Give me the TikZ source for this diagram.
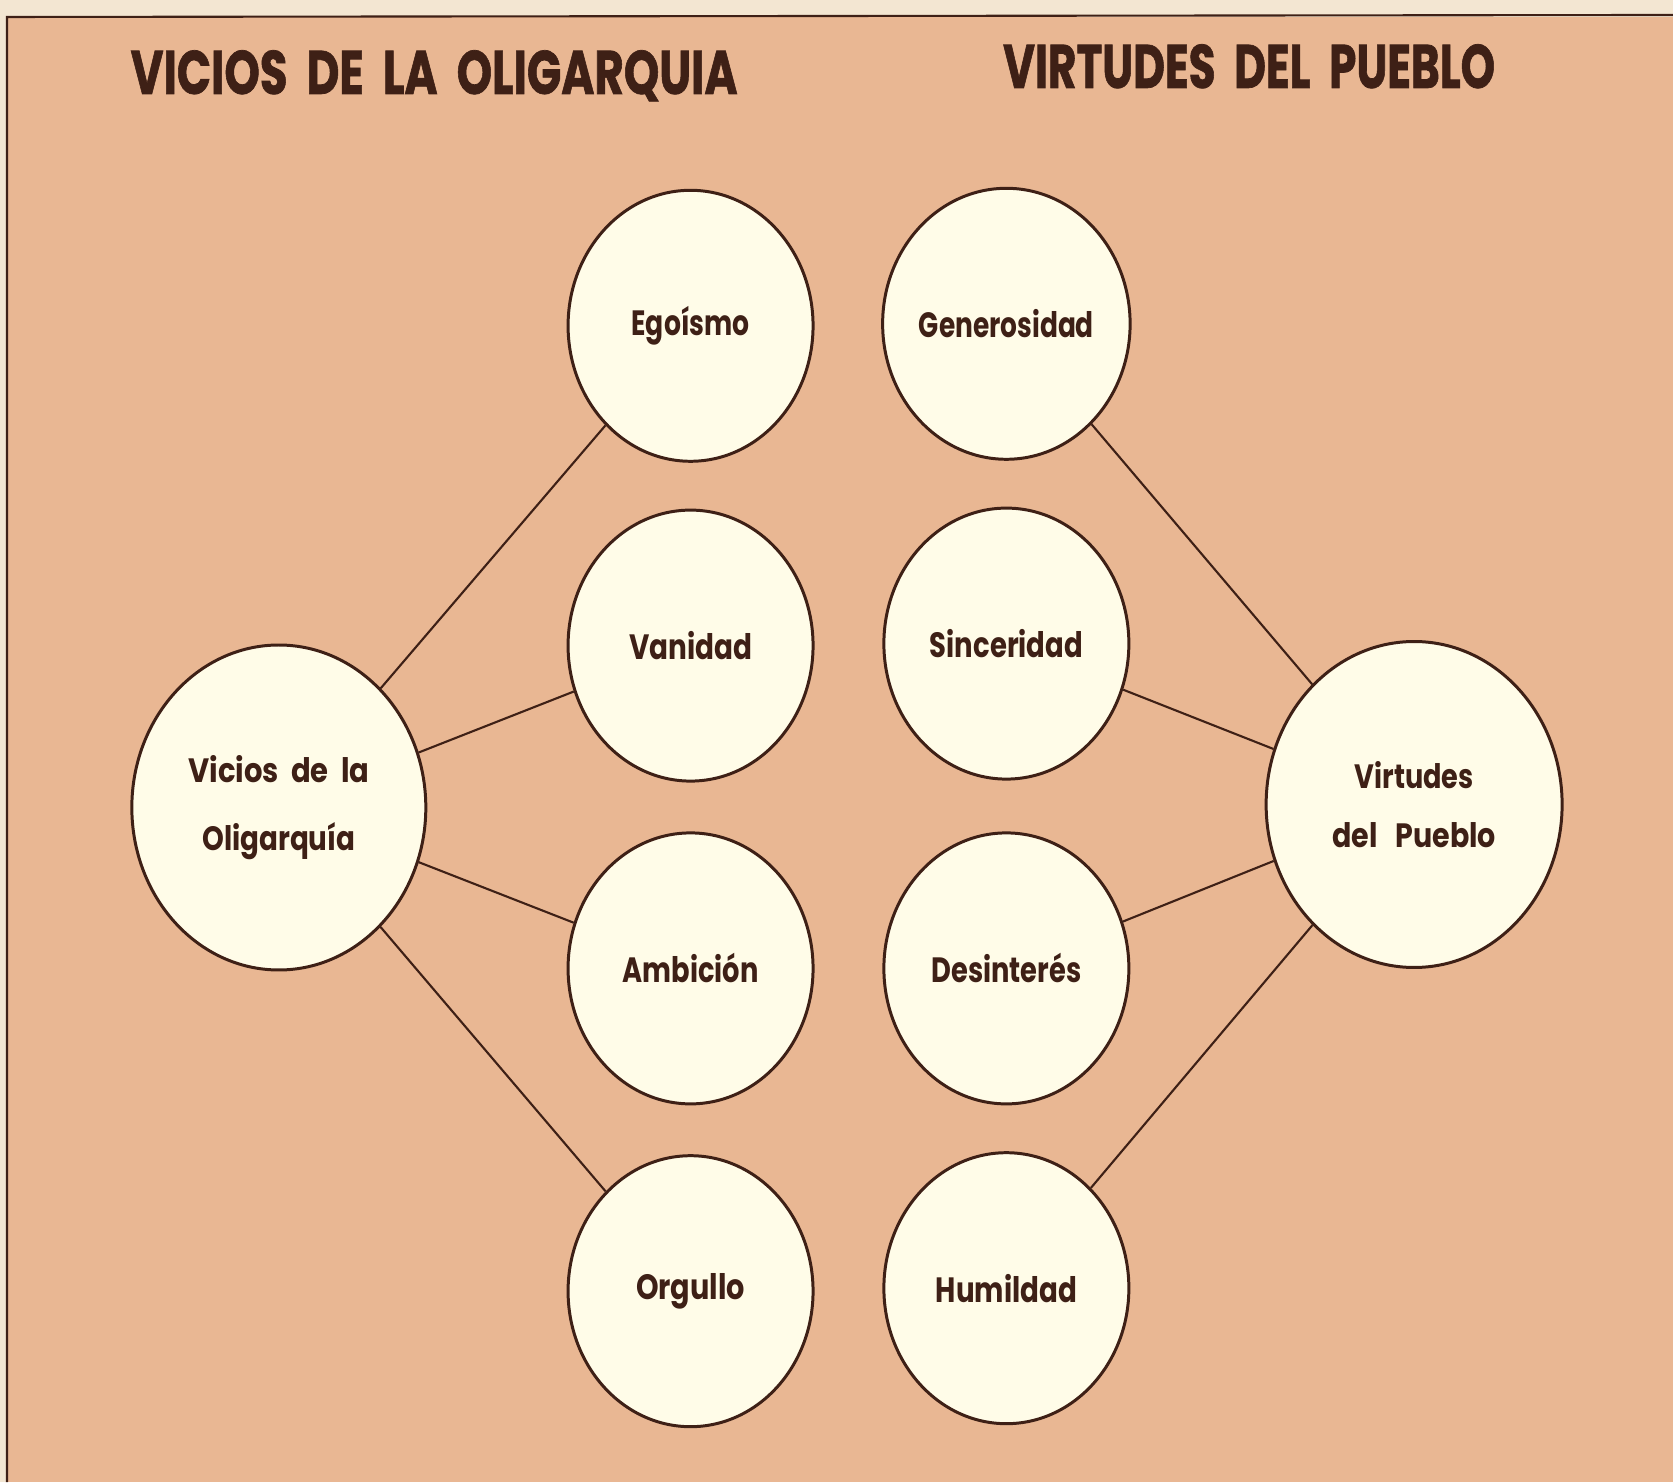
\documentclass[tikz,border=0pt]{standalone}
\usepackage{fontspec}
\setmainfont{Poppins}
\newfontfamily\titlefont{Poppins}[BoldFeatures={FakeBold=1.2}]
\usetikzlibrary{shapes.geometric}
\definecolor{bgpeach}{HTML}{E9B793}
\definecolor{papercream}{HTML}{F3E6D2}
\definecolor{ink}{HTML}{3E2016}
\definecolor{fillcream}{HTML}{FFFCE8}
\newcommand\fitw[2]{\resizebox{#1}{\height}{#2}}
\begin{document}
\begin{tikzpicture}[x=0.01cm,y=-0.01cm,
  bubble/.style={ellipse, draw=ink, line width=0.85pt, fill=fillcream, inner sep=0pt,
    minimum width=2.45cm, minimum height=2.71cm, text=ink, align=center,
    font=\bfseries\fontsize{10pt}{12pt}\selectfont},
  bigbubble/.style={bubble, minimum width=2.94cm, minimum height=3.25cm},
  link/.style={draw=ink, line width=0.6pt},
  title/.style={text=ink, inner sep=0pt, anchor=base west,
    font=\titlefont\bfseries\fontsize{17.5pt}{20pt}\selectfont}]
% background and frame
\fill[papercream] (0,0) rectangle (1674,1483);
\fill[bgpeach] (7,17) rectangle (1674,1483);
\draw[ink, line width=0.6pt] (7,1483) -- (7,17) -- (1674,15);

% titles
\node[title] (t1) at (130,94) {\fitw{6.07cm}{VICIOS\ \ DE\ \ LA\ \ OLIGARQUIA}};
\node[title] (t2) at (1003,88) {\fitw{4.92cm}{VIRTUDES\ \ DEL\ \ PUEBLO}};

% big nodes
\node[bigbubble, minimum width=2.94cm, minimum height=3.25cm, font=\bfseries\fontsize{9.6pt}{19.4pt}\selectfont] (vic) at (279,808)
  {\fitw{1.81cm}{Vicios\ \ de\ \ la}\\\fitw{1.53cm}{Oligarquía}};
\node[bigbubble, minimum width=2.96cm, minimum height=3.26cm, font=\bfseries\fontsize{9.6pt}{17pt}\selectfont] (vir) at (1415,805)
  {\fitw{1.19cm}{Virtudes}\\\fitw{1.64cm}{del\ \ \ Pueblo}};

% left column
\node[bubble] (ego) at (691,326) {\fitw{1.18cm}{Egoísmo}};
\node[bubble] (van) at (691,646) {\fitw{1.23cm}{Vanidad}};
\node[bubble] (amb) at (691,969) {\fitw{1.36cm}{Ambición}};
\node[bubble] (org) at (691,1292) {\fitw{1.09cm}{Orgullo}};

% right column
\node[bubble] (gen) at (1007,324) {\fitw{1.75cm}{Generosidad}};
\node[bubble] (sin) at (1007,644) {\fitw{1.53cm}{Sinceridad}};
\node[bubble] (des) at (1007,969) {\fitw{1.50cm}{Desinterés}};
\node[bubble] (hum) at (1007,1289) {\fitw{1.41cm}{Humildad}};

% connectors
\foreach \n in {ego,van,amb,org} \draw[link] (vic) -- (\n);
\foreach \n in {gen,sin,des,hum} \draw[link] (vir) -- (\n);
\end{tikzpicture}
\end{document}
